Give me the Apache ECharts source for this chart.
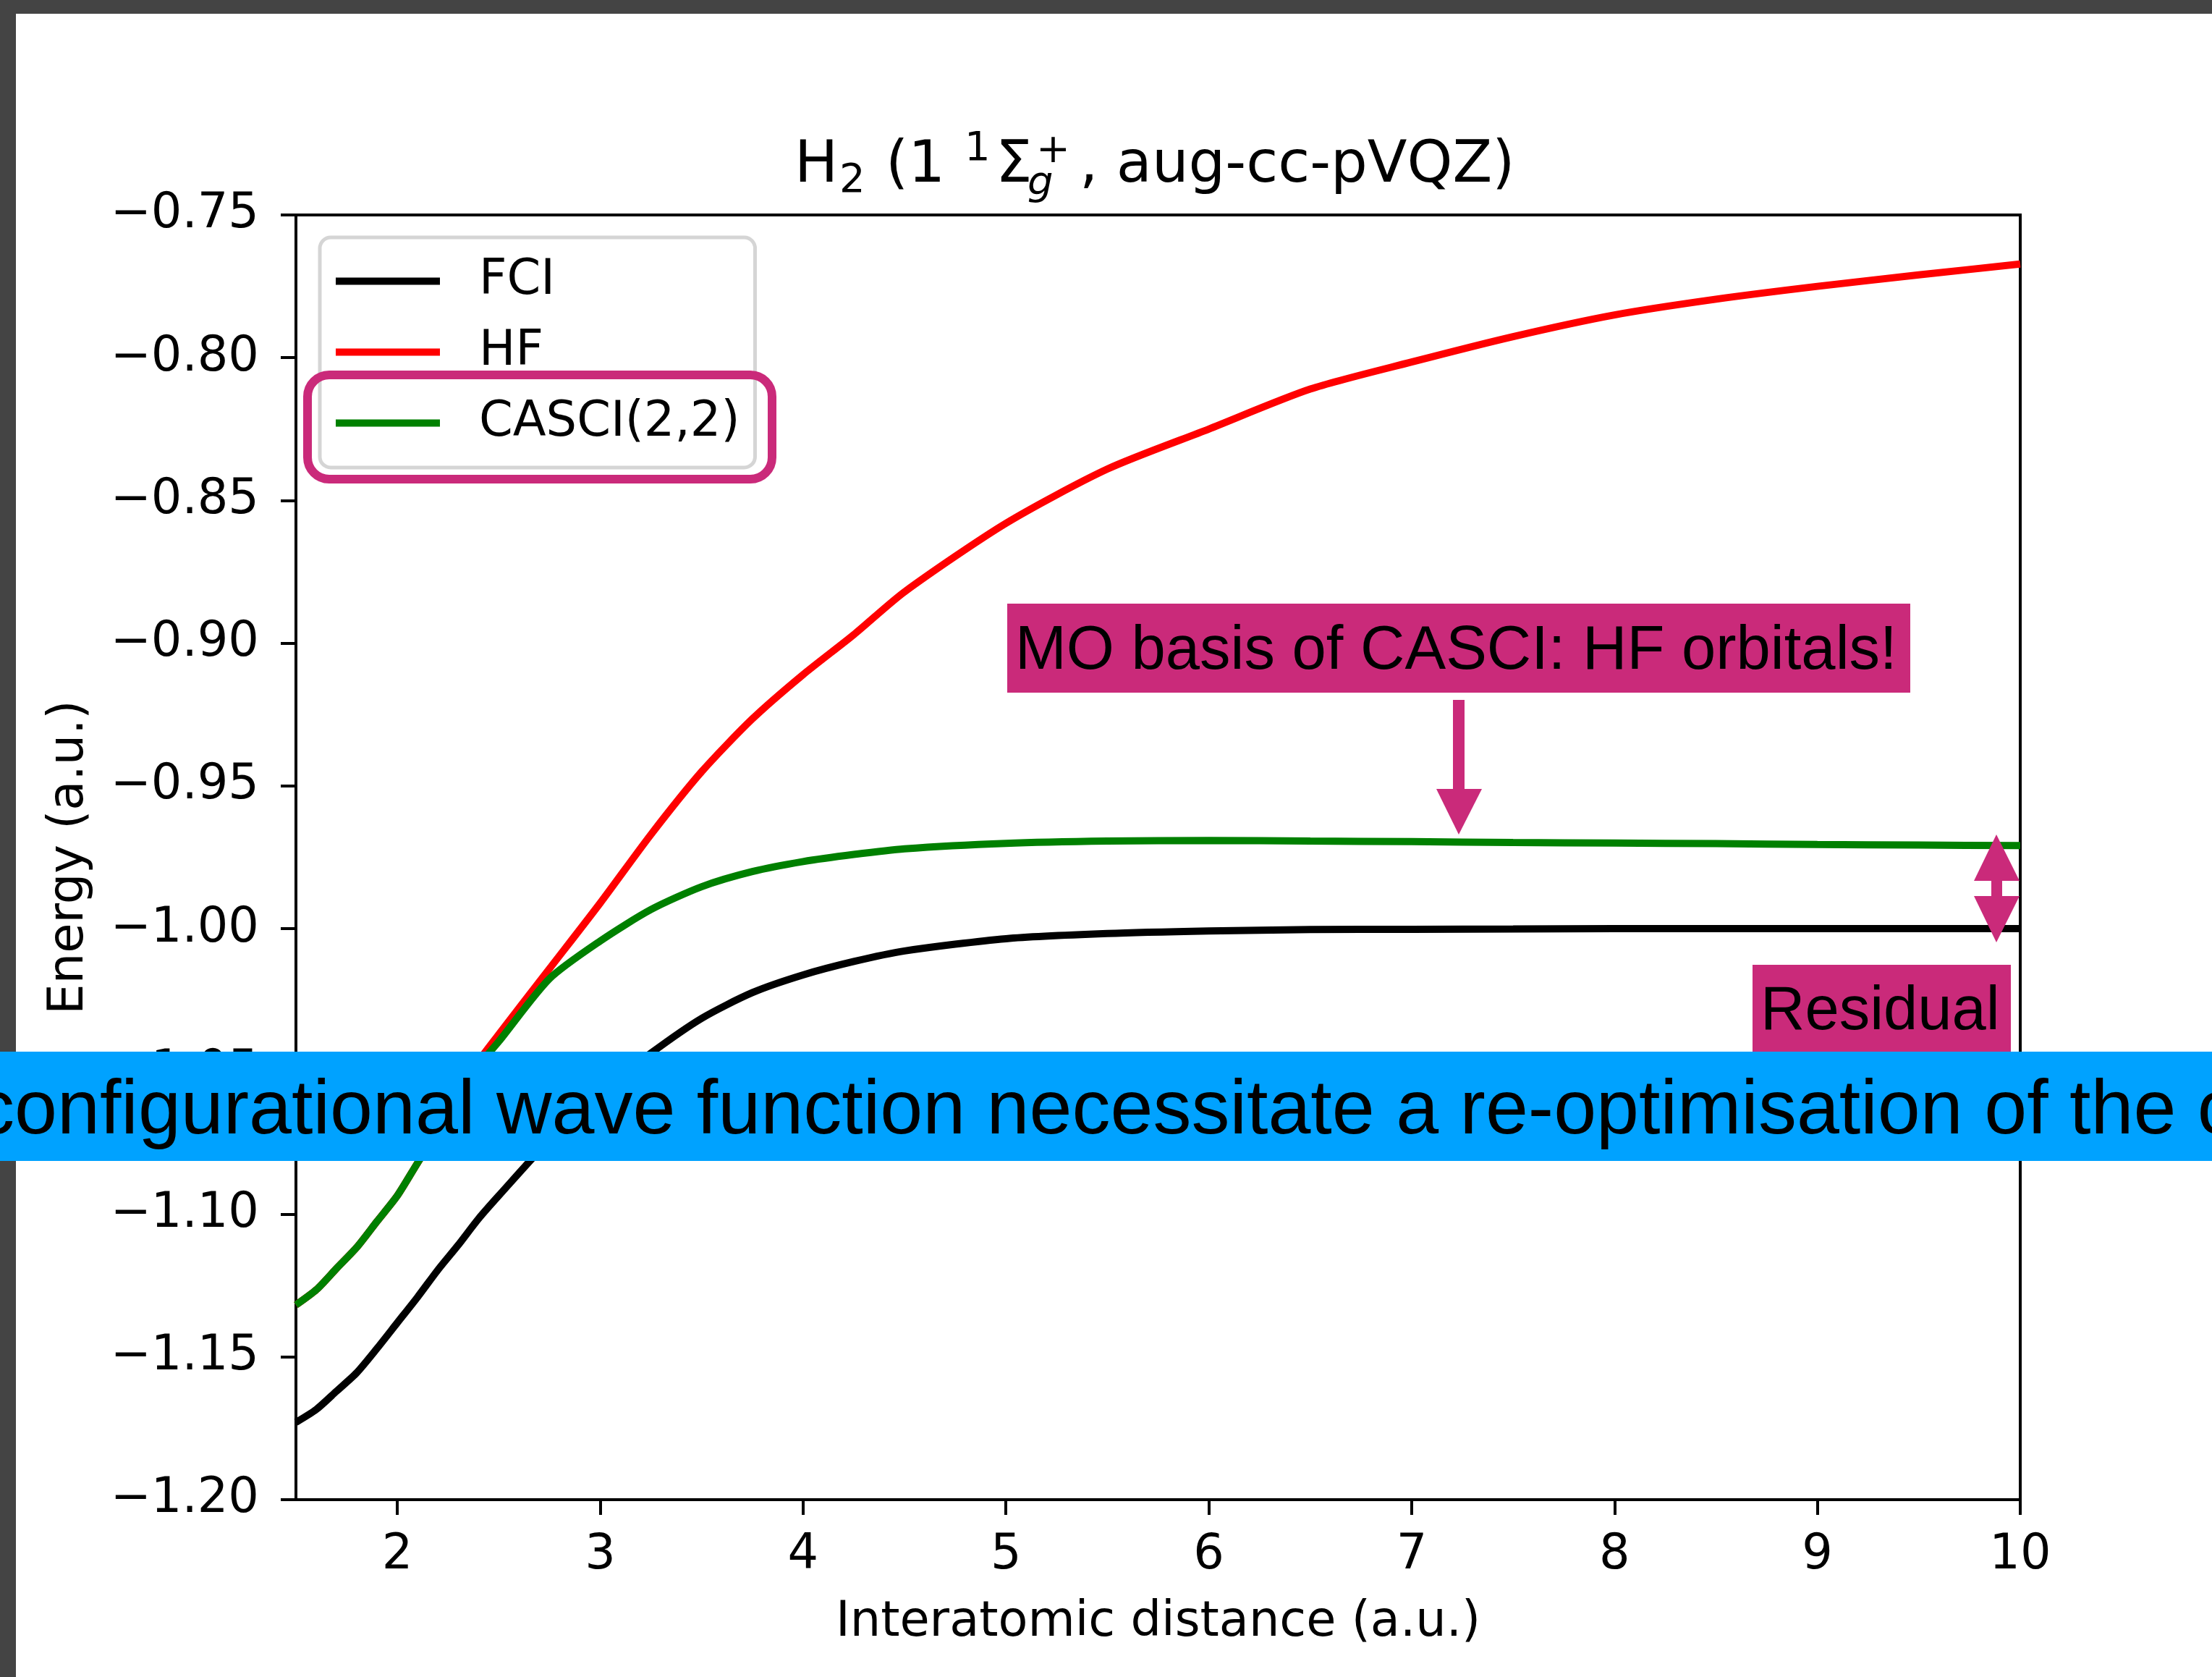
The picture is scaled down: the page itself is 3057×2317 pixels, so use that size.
<!DOCTYPE html>
<html>
<head>
<meta charset="utf-8">
<script src="https://cdn.jsdelivr.net/npm/echarts@6/dist/echarts.min.js"></script>
<style>
  html, body { margin: 0; padding: 0; background: #fff; }
  #chart { width: 3057px; height: 2317px; }
</style>
</head>
<body>
<div id="chart"></div>
<script>
// interatomic distance (a.u.)
const distance = [1.5, 1.6, 1.7, 1.8, 1.9, 2.0, 2.1, 2.2, 2.3, 2.4, 2.5, 2.75, 3.0, 3.25, 3.5, 3.75,
  4.0, 4.25, 4.5, 5.0, 5.5, 6.0, 6.5, 7.0, 7.5, 8.0, 8.5, 9.0, 9.5, 10.0];
// energies (a.u.)
const fci = [-1.1729, -1.1684, -1.1620, -1.1555, -1.1470, -1.1380, -1.1290, -1.1195, -1.1108, -1.1016,
  -1.0935, -1.0740, -1.0575, -1.0436, -1.0314, -1.0224, -1.0162, -1.0115, -1.0078, -1.0035,
  -1.0017, -1.0008, -1.0003, -1.0002, -1.0001, -1.0000, -1.0000, -1.0000, -1.0000, -1.0000];
const hf = [-1.1318, -1.1265, -1.1190, -1.1116, -1.1025, -1.0935, -1.0820, -1.0710, -1.0590, -1.0465,
  -1.0370, -1.0140, -0.9910, -0.9670, -0.9450, -0.9265, -0.9110, -0.8970, -0.8820, -0.8580,
  -0.8390, -0.8250, -0.8110, -0.8015, -0.7926, -0.7850, -0.7795, -0.7750, -0.7710, -0.7672];
const casci = [-1.1318, -1.1265, -1.1190, -1.1116, -1.1025, -1.0935, -1.0820, -1.0710, -1.0590, -1.0480,
  -1.0395, -1.0175, -1.0043, -0.9933, -0.9853, -0.9800, -0.9765, -0.9740, -0.9720, -0.9701,
  -0.9693, -0.9691, -0.9693, -0.9695, -0.9698, -0.9700, -0.9702, -0.9705, -0.9707, -0.9709];
const xTicks = [2, 3, 4, 5, 6, 7, 8, 9, 10];
const yTicks = [-1.2, -1.15, -1.1, -1.05, -1.0, -0.95, -0.9, -0.85, -0.8, -0.75];

const dom = document.getElementById('chart');
const chart = echarts.init(dom, null, { renderer: 'canvas' });

const pink = '#CA2A7A';
const mpl = 'DejaVu Sans';
const arial = 'Liberation Sans';

function pairs(ys) {
  return distance.map((x, i) => [x, ys[i]]);
}

function titlePiece(text, x, y, size, extra) {
  return Object.assign({
    type: 'text', x: x, y: y, z: 50,
    style: { text: text, font: size + 'px "' + mpl + '"', fill: '#000', verticalAlign: 'middle', align: 'left' }
  }, extra || {});
}

function curve(name, ys, color) {
  return {
    name: name, type: 'line', data: pairs(ys),
    showSymbol: false, symbol: 'none',
    smooth: 0.25,
    color: color, lineStyle: { color: color, width: 10 }
  };
}

const option = {
  animation: false,
  backgroundColor: '#fff',
  grid: {
    left: 409, right: 265, top: 297, bottom: 245,
    show: true, borderColor: '#000', borderWidth: 4, backgroundColor: 'transparent'
  },
  legend: {
    left: 442, top: 328, orient: 'vertical',
    data: ['FCI', 'HF', 'CASCI(2,2)'],
    icon: 'rect', itemWidth: 144, itemHeight: 10, itemGap: 31,
    padding: [27, 21, 28, 22],
    borderColor: '#d5d5d5', borderWidth: 5, borderRadius: 15,
    backgroundColor: 'rgba(255,255,255,0.8)',
    selectedMode: false,
    textStyle: { fontFamily: mpl, fontSize: 67, color: '#000', padding: [0, 0, 0, 49] }
  },
  xAxis: {
    type: 'value', min: 1.5, max: 10,
    name: 'Interatomic distance (a.u.)', nameLocation: 'middle', nameGap: 137,
    nameTextStyle: { fontFamily: mpl, fontSize: 67, color: '#000' },
    axisLine: { show: false },
    axisTick: { show: true, length: 21, lineStyle: { color: '#000', width: 4 }, customValues: xTicks },
    axisLabel: { margin: 44, fontFamily: mpl, fontSize: 67, color: '#000', customValues: xTicks,
      formatter: v => String(v) },
    splitLine: { show: false }
  },
  yAxis: {
    type: 'value', min: -1.2, max: -0.75,
    name: 'Energy (a.u.)', nameLocation: 'middle', nameGap: 279, nameRotate: 90,
    nameTextStyle: { fontFamily: mpl, fontSize: 67, color: '#000' },
    axisLine: { show: false },
    axisTick: { show: true, length: 21, lineStyle: { color: '#000', width: 4 }, customValues: yTicks },
    axisLabel: { margin: 51, fontFamily: mpl, fontSize: 67, color: '#000', customValues: yTicks,
      padding: [9, 0, 0, 0],
      formatter: v => v.toFixed(2).replace('-', '\u2212') },
    splitLine: { show: false }
  },
  series: [
    curve('FCI', fci, '#000000'),
    curve('HF', hf, '#ff0000'),
    curve('CASCI(2,2)', casci, '#008000')
  ],
  graphic: [
    // page frame
    { type: 'rect', z: 80, shape: { x: 0, y: 0, width: 3057, height: 19 }, style: { fill: '#444' } },
    { type: 'rect', z: 80, shape: { x: 0, y: 0, width: 22, height: 2317 }, style: { fill: '#444' } },
    // title H2 (1 1Σg+, aug-cc-pVQZ)
    titlePiece('H', 1098, 230, 80),
    titlePiece('2', 1160, 250, 56),
    titlePiece('(1', 1224, 230, 80),
    titlePiece('1', 1333, 206, 56),
    titlePiece('\u03A3', 1376, 230, 80),
    { type: 'text', x: 1420, y: 254, z: 50,
      style: { text: 'g', font: 'italic 56px "' + mpl + '"', fill: '#000', verticalAlign: 'middle', align: 'left' } },
    titlePiece('+', 1432, 209, 56),
    titlePiece(', aug-cc-pVQZ)', 1492, 230, 80),
    // highlight around CASCI legend entry
    { type: 'rect', z: 60, shape: { x: 425, y: 518, width: 642, height: 144, r: 30 },
      style: { fill: 'none', stroke: pink, lineWidth: 12 } },
    // MO basis annotation
    { type: 'rect', z: 60, shape: { x: 1392, y: 834, width: 1248, height: 123 }, style: { fill: pink } },
    { type: 'text', z: 61, x: 1403, y: 901,
      style: { text: 'MO basis of CASCI: HF orbitals!', font: '85px "' + arial + '"', fill: '#000', verticalAlign: 'middle' } },
    { type: 'rect', z: 60, shape: { x: 2008, y: 967, width: 16, height: 124 }, style: { fill: pink } },
    { type: 'polygon', z: 60, shape: { points: [[1985, 1090], [2048, 1090], [2016, 1153]] }, style: { fill: pink } },
    // residual double arrow
    { type: 'polygon', z: 60, shape: { points: [[2759, 1153], [2728, 1217], [2791, 1217]] }, style: { fill: pink } },
    { type: 'rect', z: 60, shape: { x: 2752, y: 1216, width: 15, height: 23 }, style: { fill: pink } },
    { type: 'polygon', z: 60, shape: { points: [[2728, 1238], [2791, 1238], [2759, 1302]] }, style: { fill: pink } },
    { type: 'rect', z: 60, shape: { x: 2422, y: 1333, width: 357, height: 123 }, style: { fill: pink } },
    { type: 'text', z: 61, x: 2433, y: 1399,
      style: { text: 'Residual', font: '85px "' + arial + '"', fill: '#000', verticalAlign: 'middle' } },
    // caption banner (sits over the page frame)
    { type: 'rect', z: 90, shape: { x: 0, y: 1453, width: 3057, height: 151 }, style: { fill: '#00A2FF' } },
    { type: 'text', z: 91, x: -33, y: 1537,
      style: { text: 'configurational wave function necessitate a re-optimisation of the orbitals',
        font: '106px "' + arial + '"', fill: '#000', verticalAlign: 'middle' } }
  ]
};

chart.setOption(option);
window.addEventListener('resize', () => chart.resize());
</script>
</body>
</html>
